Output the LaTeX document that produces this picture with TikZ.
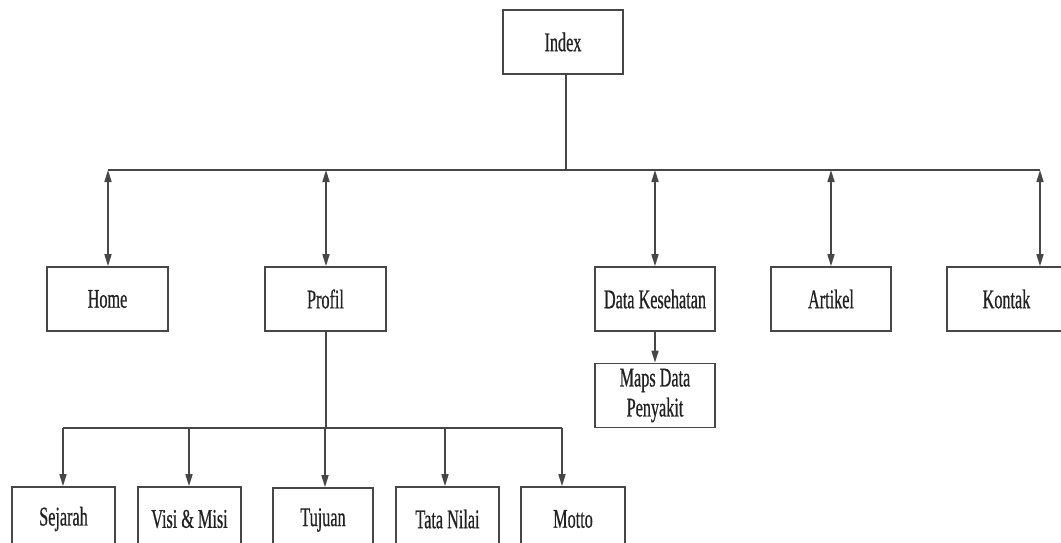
\documentclass[tikz,border=0pt]{standalone}
\usepackage{fontspec}
\setmainfont[FakeStretch=0.6,FakeBold=0.6]{Liberation Serif}
\usetikzlibrary{arrows.meta}
\definecolor{linegray}{HTML}{474747}
\definecolor{textgray}{HTML}{222222}
\begin{document}
\begin{tikzpicture}[x=1pt,y=-1pt,
  box/.style={draw=linegray, line width=1.6pt, text=textgray,
    font=\fontsize{27}{30}\selectfont, inner sep=0pt, align=center,
    minimum height=64pt},
  link/.style={draw=linegray, line width=1.6pt},
  tip/.style={-{Triangle[length=12pt,width=7pt]}},
  both/.style={{Triangle[length=12pt,width=7pt]}-{Triangle[length=12pt,width=7pt]}}]
\clip (0,0) rectangle (1061,543);
\fill[white] (0,0) rectangle (1061,543);

% root
\node[box, minimum width=120pt] (index) at (563,42) {Index};

% main menu
\node[box, minimum width=121pt] (home)    at (107.5,299) {Home};
\node[box, minimum width=121pt] (profil)  at (325.5,299) {Profil};
\node[box, minimum width=120pt] (data)    at (655,299)   {Data Kesehatan};
\node[box, minimum width=120pt] (artikel) at (831,299)   {Artikel};
\node[box, minimum width=119pt] (kontak)  at (1006.5,299) {Kontak};

% sub menu of Data Kesehatan
\node[box, minimum width=120pt] (maps) at (655,395.5) {Maps Data\\Penyakit};

% sub menu of Profil
\node[box, minimum width=103pt] (sejarah) at (63.5,519)  {Sejarah};
\node[box, minimum width=103pt] (visi)    at (189.5,519) {Visi \& Misi};
\node[box, minimum width=100pt] (tujuan)  at (323,520)   {Tujuan};
\node[box, minimum width=103pt] (tata)    at (447.5,519) {Tata Nilai};
\node[box, minimum width=104pt] (motto)   at (573,519)   {Motto};

% upper bus and its drop points
\coordinate (busL) at (108,170);
\coordinate (busP) at (326,170);
\coordinate (busR) at (1040,170);
\draw[link] (busL) -- (busR);
\draw[link] ([xshift=3pt]index.south) -- ([xshift=3pt]index.south |- busL);
\draw[link,both] (busL) -- (busL |- home.north);
\draw[link,both] (busP) -- (busP |- profil.north);
\draw[link,both] (data.north |- busL) -- (data.north);
\draw[link,both] (artikel.north |- busL) -- (artikel.north);
\draw[link,both] (busR) -- (busR |- kontak.north);

\draw[link,tip] (data.south) -- (maps.north);

% lower bus and its drop points
\coordinate (subL) at (63,428);
\coordinate (subV) at (189,428);
\coordinate (subP) at (326,428);
\coordinate (subT) at (325,428);
\coordinate (subN) at (445,428);
\coordinate (subR) at (562,428);
\draw[link] (subL) -- (subR);
\draw[link] (subP |- profil.south) -- (subP);
\draw[link,tip] (subL) -- (subL |- sejarah.north);
\draw[link,tip] (subV) -- (subV |- visi.north);
\draw[link,tip] (subT) -- (subT |- tujuan.north);
\draw[link,tip] (subN) -- (subN |- tata.north);
\draw[link,tip] (subR) -- (subR |- motto.north);
\end{tikzpicture}
\end{document}
